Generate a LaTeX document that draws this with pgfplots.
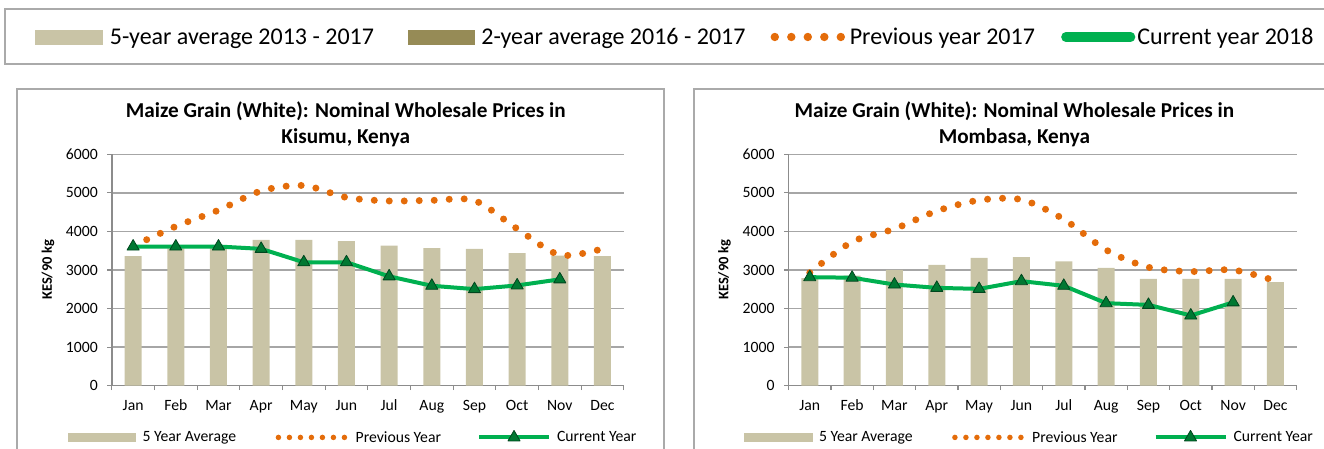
\documentclass[border=0pt]{standalone}
\usepackage{fontspec}
\setmainfont{Carlito}
\usepackage{pgfplots}
\pgfplotsset{compat=1.18}
\definecolor{tanbar}{RGB}{201,196,166}
\definecolor{olive2}{RGB}{150,139,86}
\definecolor{porange}{RGB}{228,108,10}
\definecolor{cgreen}{RGB}{0,176,80}
\definecolor{mkfill}{RGB}{0,120,50}
\definecolor{mkdraw}{RGB}{0,70,30}
\definecolor{gridc}{RGB}{166,166,166}
\definecolor{axisc}{RGB}{140,140,140}
\definecolor{framec}{RGB}{170,170,170}

\pgfplotsset{
 chart/.style={
  scale only axis, height=231.4pt,
  xmin=-0.5, xmax=11.5, ymin=0, ymax=6000,
  xtick={-0.5,0.5,...,11.5},
  xticklabels={,,,,,,,,,,,,,},
  extra x ticks={0,1,...,11},
  extra x tick labels={Jan,Feb,Mar,Apr,May,Jun,Jul,Aug,Sep,Oct,Nov,Dec},
  extra x tick style={major tick length=0pt},
  xticklabel shift=10pt,
  xticklabel style={text height=11pt, text depth=3.5pt},
  yticklabel shift=6pt,
  ytick={0,1000,...,6000},
  tick align=outside, major tick length=4.5pt,
  axis x line*=bottom, axis y line*=left,
  axis line style={axisc, line width=1.5pt, -},
  ymajorgrids, grid style={gridc, line width=1.5pt},
  tick style={axisc, line width=1.2pt},
  ticklabel style={font=\fontsize{15.7}{18}\selectfont},
  /pgf/number format/assume math mode=true,
  /pgf/number format/1000 sep={},
  ylabel={KES/90 kg},
  ylabel style={font=\bfseries\fontsize{14.5}{16}\selectfont, anchor=center},
  title style={font=\bfseries\fontsize{21.2}{26.6}\selectfont, align=center, anchor=north, inner sep=0pt},
  legend columns=3,
  legend style={draw=none, fill=none, inner sep=0pt, outer sep=0pt,
     font=\fontsize{15.7}{18}\selectfont, anchor=west,
     nodes={inner sep=0pt},
     /tikz/every even column/.append style={column sep=36pt}},
  clip=false,
 },
 barplot/.style={ybar, bar width=17pt, bar shift=0pt, fill=tanbar, draw=none,
   legend image code/.code={\fill[tanbar] (0pt,-4.6pt) rectangle (68.5pt,4.6pt); \path (75pt,0pt);}},
 prevplot/.style={porange, line width=7pt, line cap=round, dash pattern=on 0pt off 15pt, smooth, no marks,
   legend image code/.code={\draw[porange, line width=5.5pt, line cap=round, dash pattern=on 0pt off 11pt] (2.75pt,0pt) -- (69pt,0pt); \path (0pt,0pt) (76.5pt,0pt);}},
 curplot/.style={cgreen, line width=4pt, line join=round, mark=triangle*, mark size=7pt,
   mark options={fill=mkfill, draw=mkdraw, line width=0.8pt, solid},
   legend image code/.code={\draw[cgreen, line width=4pt] (0pt,0pt) -- (70pt,0pt);
      \draw[fill=mkfill, draw=mkdraw, line width=0.8pt] plot[mark=triangle*, mark size=7pt] coordinates {(35pt,0pt)};
      \path (76pt,0pt);}},
}

\begin{document}
\begin{tikzpicture}[x=1pt,y=1pt]
\useasboundingbox (0,0) rectangle (1324,449);
\clip (0,0) rectangle (1324,449);
% frames
\draw[framec, line width=2pt] (5,439.7) rectangle (1340,384.7);
\draw[framec, line width=2pt] (17,-20) -- (17,359.7) -- (664,359.7) -- (664,-20);
\draw[framec, line width=2pt] (693.6,-20) -- (693.6,359.7) -- (1340,359.7);

% top legend
\begin{axis}[hide axis, scale only axis, width=1324pt, height=449pt,
  at={(0pt,0pt)}, anchor=south west, xmin=0, xmax=1, ymin=0, ymax=1,
  legend columns=4,
  legend style={at={(axis description cs:0.0268,0.9176)}, anchor=west,
    draw=none, fill=none, inner sep=0pt, outer sep=0pt,
    font=\fontsize{24}{28}\selectfont, nodes={inner sep=0pt},
    /tikz/column 2/.style={column sep=34pt},
    /tikz/column 4/.style={column sep=25pt},
    /tikz/column 6/.style={column sep=26pt}}]
\addlegendimage{legend image code/.code={\fill[tanbar] (0pt,-7pt) rectangle (67pt,7pt); \path (74pt,0pt);}}
\addlegendentry{5-year average 2013 - 2017}
\addlegendimage{legend image code/.code={\fill[olive2] (0pt,-7pt) rectangle (66pt,7pt); \path (73pt,0pt);}}
\addlegendentry{2-year average 2016 - 2017}
\addlegendimage{legend image code/.code={\draw[porange, line width=8.4pt, line cap=round, dash pattern=on 0pt off 16.5pt] (4.2pt,0pt) -- (70.5pt,0pt); \path (0pt,0pt) (79pt,0pt);}}
\addlegendentry{Previous year 2017}
\addlegendimage{legend image code/.code={\draw[cgreen, line width=9.3pt, line cap=round] (4.65pt,0pt) -- (69.5pt,0pt); \path (0pt,0pt) (76pt,0pt);}}
\addlegendentry{Current year 2018}
\end{axis}

% Kisumu
\begin{axis}[chart, width=512pt, at={(111.8pt,63.3pt)}, anchor=south west,
  title={Maize Grain (White): Nominal Wholesale Prices in\\Kisumu, Kenya},
  title style={at={(axis description cs:0.457,1.2035)}},
  ylabel style={at={(axis description cs:-0.1246,0.5)}},
  legend style={at={(axis description cs:-0.0865,-0.2217)}}]
\addplot[barplot] coordinates {(0,3357) (1,3560) (2,3590) (3,3783) (4,3783) (5,3748) (6,3635) (7,3565) (8,3548) (9,3435) (10,3374) (11,3357)};
\addlegendentry{5 Year Average}
\addplot[prevplot] coordinates {(0,3620) (1,4130) (2,4550) (3,5050) (4,5190) (5,4880) (6,4790) (7,4805) (8,4800) (9,4070) (10,3390) (11,3550)};
\addlegendentry{Previous Year}
\addplot[curplot] coordinates {(0,3609) (1,3609) (2,3609) (3,3548) (4,3200) (5,3200) (6,2835) (7,2591) (8,2504) (9,2600) (10,2757)};
\addlegendentry{Current Year}
\end{axis}

% Mombasa
\begin{axis}[chart, width=508pt, at={(788.6pt,63.3pt)}, anchor=south west,
  title={Maize Grain (White): Nominal Wholesale Prices in\\Mombasa, Kenya},
  title style={at={(axis description cs:0.4445,1.2035)}},
  ylabel style={at={(axis description cs:-0.126,0.5)}},
  legend style={at={(axis description cs:-0.0878,-0.2217)}}]
\addplot[barplot] coordinates {(0,2788) (1,2857) (2,3000) (3,3134) (4,3316) (5,3333) (6,3221) (7,3056) (8,2770) (9,2770) (10,2770) (11,2684)};
\addlegendentry{5 Year Average}
\addplot[prevplot] coordinates {(0,2930) (1,3730) (2,4065) (3,4530) (4,4810) (5,4825) (6,4315) (7,3520) (8,3070) (9,2960) (10,3000) (11,2720)};
\addlegendentry{Previous Year}
\addplot[curplot] coordinates {(0,2814) (1,2800) (2,2623) (3,2537) (4,2510) (5,2710) (6,2590) (7,2140) (8,2095) (9,1820) (10,2160)};
\addlegendentry{Current Year}
\end{axis}
\end{tikzpicture}
\end{document}
